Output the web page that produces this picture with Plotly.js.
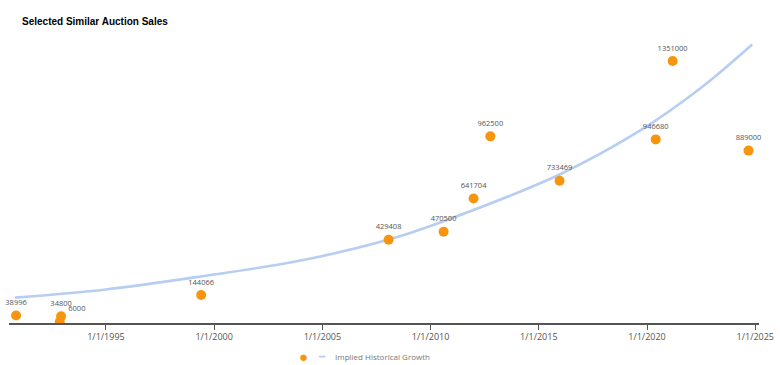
<!DOCTYPE html>
<html>
<head>
<meta charset="utf-8">
<script src="https://cdn.plot.ly/plotly-3.0.1.min.js"></script>
<style>html,body{margin:0;padding:0;background:#fff;}#chart{width:780px;height:365px;}</style>
</head>
<body>
<div id="chart"></div>
<script>
// Sales (scatter points)
const saleDates = ['1990-11-06','1992-12-05','1992-11-13','1999-05-27','2008-01-23','2010-08-08','2011-12-27','2012-10-05','2015-12-17','2020-05-27','2021-03-08','2024-09-09'];
const salePrices = [38996, 34800, 6000, 144066, 429408, 470500, 641704, 962500, 733469, 946680, 1351000, 889000];
const saleLabelPos = ['top center','top center','top right','top center','top center','top center','top center','top center','top center','top center','top center','top center'];

// Implied historical growth curve
const growthDates = ['1990-10-20','1995-01-01','1999-05-20','2004-01-01','2008-01-23','2010-08-08','2015-12-17','2019-09-10','2022-06-15','2024-11-10'];
const growthValues = [131000, 173000, 240000, 322000, 430000, 525000, 766000, 993000, 1209000, 1436000];

// Axis ticks
const tickDates = ['1995-01-01','2000-01-01','2005-01-01','2010-01-01','2015-01-01','2020-01-01','2025-01-01'];
const tickLabels = ['1/1/1995','1/1/2000','1/1/2005','1/1/2010','1/1/2015','1/1/2020','1/1/2025'];

const orange = '#F7960E';
const blue = '#B7CDF1';

const traces = [
  {
    x: growthDates, y: growthValues, type: 'scatter', mode: 'lines',
    line: {color: blue, width: 2.6, shape: 'spline', smoothing: 1},
    name: 'Implied Historical Growth', hoverinfo: 'skip', showlegend: false
  },
  {
    x: saleDates, y: salePrices, type: 'scatter', mode: 'markers',
    marker: {color: orange, size: 10}, cliponaxis: true,
    name: '', showlegend: false
  },
  {
    x: saleDates, y: salePrices, type: 'scatter', mode: 'markers+text',
    marker: {color: orange, size: 12, opacity: 0},
    text: salePrices.map(String), textposition: saleLabelPos, cliponaxis: false,
    textfont: {family: 'Open Sans, Arial, sans-serif', size: 7.5, color: '#555'},
    name: '', showlegend: false, hoverinfo: 'skip'
  }
];

const layout = {
  width: 780, height: 365,
  margin: {l: 9, r: 21, t: 40, b: 42},
  paper_bgcolor: '#fff', plot_bgcolor: '#fff',
  title: {
    text: '<b>Selected Similar Auction Sales</b>',
    x: 22/780, xanchor: 'left', xref: 'container',
    y: 1 - 21/365, yanchor: 'middle', yref: 'container',
    font: {family: 'Liberation Sans, Arial, sans-serif', size: 10, color: '#000'}
  },
  xaxis: {
    type: 'date', range: ['1990-07-10', '2025-03-05'],
    showgrid: false, zeroline: false,
    showline: true, linecolor: '#555', linewidth: 1.5,
    ticks: 'outside', ticklen: 5, tickcolor: '#555', tickwidth: 1,
    tickvals: tickDates, ticktext: tickLabels,
    tickfont: {family: 'Open Sans, Arial, sans-serif', size: 9, color: '#555'}
  },
  yaxis: {
    range: [0, 1459300], visible: false, showgrid: false, zeroline: false
  },
  showlegend: false,
  annotations: [
    {xref: 'paper', yref: 'paper', x: (303-9)/750, y: -(356-323)/283, text: '●', showarrow: false,
     font: {size: 15, color: orange}, xanchor: 'center', yanchor: 'middle'},
    {xref: 'paper', yref: 'paper', x: (322-9)/750, y: -(356-323)/283, text: '━', showarrow: false,
     font: {size: 10, color: blue}, xanchor: 'center', yanchor: 'middle'},
    {xref: 'paper', yref: 'paper', x: (333-9)/750, y: -(356-323)/283, text: 'Implied Historical Growth', showarrow: false,
     font: {family: 'Open Sans, Arial, sans-serif', size: 8, color: '#777'}, xanchor: 'left', yanchor: 'middle'}
  ]
};

Plotly.newPlot('chart', traces, layout, {displayModeBar: false, staticPlot: true});
</script>
</body>
</html>
